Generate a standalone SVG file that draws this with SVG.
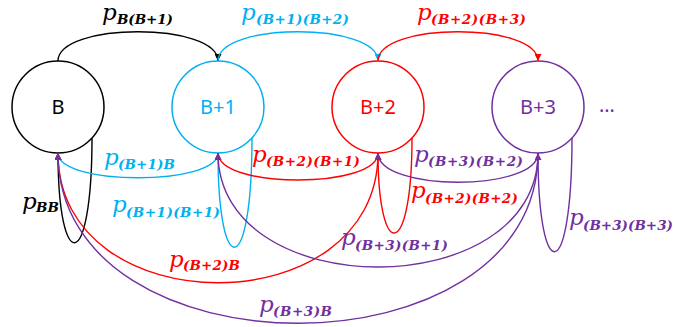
<svg xmlns="http://www.w3.org/2000/svg" width="675" height="327" viewBox="0 0 675 327">
<style>
.node{fill:#fff;stroke-width:1.5}
.ntxt{font-family:"Noto Sans","Liberation Sans",sans-serif;font-size:20px;text-anchor:middle}
.ln{fill:none;stroke-width:1.4}
.p{font-family:"DejaVu Serif",serif;font-style:italic;font-size:23px}
.s{font-family:"DejaVu Serif",serif;font-style:italic;font-weight:bold;font-size:13.5px}
</style>
<defs>
<marker id="ak" viewBox="0 0 10 10" refX="10" refY="5" markerWidth="7" markerHeight="7" markerUnits="userSpaceOnUse" orient="auto"><path d="M0,0 L10,5 L0,10 z" fill="#000"/></marker>
<marker id="ab" viewBox="0 0 10 10" refX="10" refY="5" markerWidth="7" markerHeight="7" markerUnits="userSpaceOnUse" orient="auto"><path d="M0,0 L10,5 L0,10 z" fill="#00B0F0"/></marker>
<marker id="ar" viewBox="0 0 10 10" refX="10" refY="5" markerWidth="7" markerHeight="7" markerUnits="userSpaceOnUse" orient="auto"><path d="M0,0 L10,5 L0,10 z" fill="#FF0000"/></marker>
<marker id="ap" viewBox="0 0 10 10" refX="10" refY="5" markerWidth="7" markerHeight="7" markerUnits="userSpaceOnUse" orient="auto"><path d="M0,0 L10,5 L0,10 z" fill="#7030A0"/></marker>
</defs>
<rect width="675" height="327" fill="#fff"/>
<g id="nodeB"><circle class="node" cx="58" cy="107" r="46" stroke="#000"/><text class="ntxt" x="58" y="114" fill="#000">B</text></g>
<g id="nodeB1"><circle class="node" cx="218" cy="107" r="46" stroke="#00B0F0"/><text class="ntxt" x="218" y="114" fill="#00B0F0">B+1</text></g>
<g id="nodeB2"><circle class="node" cx="378" cy="107" r="46" stroke="#FF0000"/><text class="ntxt" x="378" y="114" fill="#FF0000">B+2</text></g>
<g id="nodeB3"><circle class="node" cx="538" cy="107" r="46" stroke="#7030A0"/><text class="ntxt" x="538" y="114" fill="#7030A0">B+3</text></g>
<g id="more"><text class="ntxt" x="607" y="112" fill="#7030A0">…</text></g>
<g id="connectors">
<path class="ln" stroke="#000" d="M58,61 C58,22 218,22 218,61" marker-end="url(#ak)"/>
<path class="ln" stroke="#000" d="M92,138 C92,275 58,275 58,153" marker-end="url(#ak)"/>
<path class="ln" stroke="#00B0F0" d="M218,61 C218,22 378,22 378,61" marker-end="url(#ab)"/>
<path class="ln" stroke="#00B0F0" d="M218,153 C218,186 58,186 58,153" marker-end="url(#ab)"/>
<path class="ln" stroke="#00B0F0" d="M252,138 C252,281 218,281 218,153" marker-end="url(#ab)"/>
<path class="ln" stroke="#FF0000" d="M378,61 C378,22 538,22 538,61" marker-end="url(#ar)"/>
<path class="ln" stroke="#FF0000" d="M378,153 C378,189 218,189 218,153" marker-end="url(#ar)"/>
<path class="ln" stroke="#FF0000" d="M378,153 C378,326 58,326 58,153" marker-end="url(#ar)"/>
<path class="ln" stroke="#FF0000" d="M412,138 C412,262 378,262 378,153" marker-end="url(#ar)"/>
<path class="ln" stroke="#7030A0" d="M538,153 C538,192 378,192 378,153" marker-end="url(#ap)"/>
<path class="ln" stroke="#7030A0" d="M538,153 C538,305 218,305 218,153" marker-end="url(#ap)"/>
<path class="ln" stroke="#7030A0" d="M538,153 C538,380 58,380 58,153" marker-end="url(#ap)"/>
<path class="ln" stroke="#7030A0" d="M572,138 C572,287 538,287 538,153" marker-end="url(#ap)"/>
</g>
<g id="labels">
<text fill="#000"><tspan class="p" x="102" y="20">p</tspan><tspan class="s" x="117" y="24" textLength="56">B(B+1)</tspan></text>
<text fill="#00B0F0"><tspan class="p" x="241" y="20">p</tspan><tspan class="s" x="256" y="24" textLength="93">(B+1)(B+2)</tspan></text>
<text fill="#FF0000"><tspan class="p" x="417" y="20">p</tspan><tspan class="s" x="431" y="24" textLength="95">(B+2)(B+3)</tspan></text>
<text fill="#00B0F0"><tspan class="p" x="104" y="165">p</tspan><tspan class="s" x="118" y="169" textLength="57">(B+1)B</tspan></text>
<text fill="#000"><tspan class="p" x="22" y="209">p</tspan><tspan class="s" x="36" y="212" textLength="23">BB</tspan></text>
<text fill="#00B0F0"><tspan class="p" x="112" y="212">p</tspan><tspan class="s" x="126" y="217" textLength="94">(B+1)(B+1)</tspan></text>
<text fill="#FF0000"><tspan class="p" x="252" y="162">p</tspan><tspan class="s" x="266" y="166" textLength="94">(B+2)(B+1)</tspan></text>
<text fill="#7030A0"><tspan class="p" x="414" y="162">p</tspan><tspan class="s" x="428" y="166" textLength="95">(B+3)(B+2)</tspan></text>
<text fill="#FF0000"><tspan class="p" x="411" y="198">p</tspan><tspan class="s" x="425" y="203" textLength="93">(B+2)(B+2)</tspan></text>
<text fill="#7030A0"><tspan class="p" x="341" y="245">p</tspan><tspan class="s" x="355" y="250" textLength="93">(B+3)(B+1)</tspan></text>
<text fill="#7030A0"><tspan class="p" x="569" y="225">p</tspan><tspan class="s" x="583" y="230" textLength="90">(B+3)(B+3)</tspan></text>
<text fill="#FF0000"><tspan class="p" x="169" y="267">p</tspan><tspan class="s" x="183" y="270" textLength="57">(B+2)B</tspan></text>
<text fill="#7030A0"><tspan class="p" x="259" y="312">p</tspan><tspan class="s" x="273" y="316" textLength="59">(B+3)B</tspan></text>
</g>
</svg>
